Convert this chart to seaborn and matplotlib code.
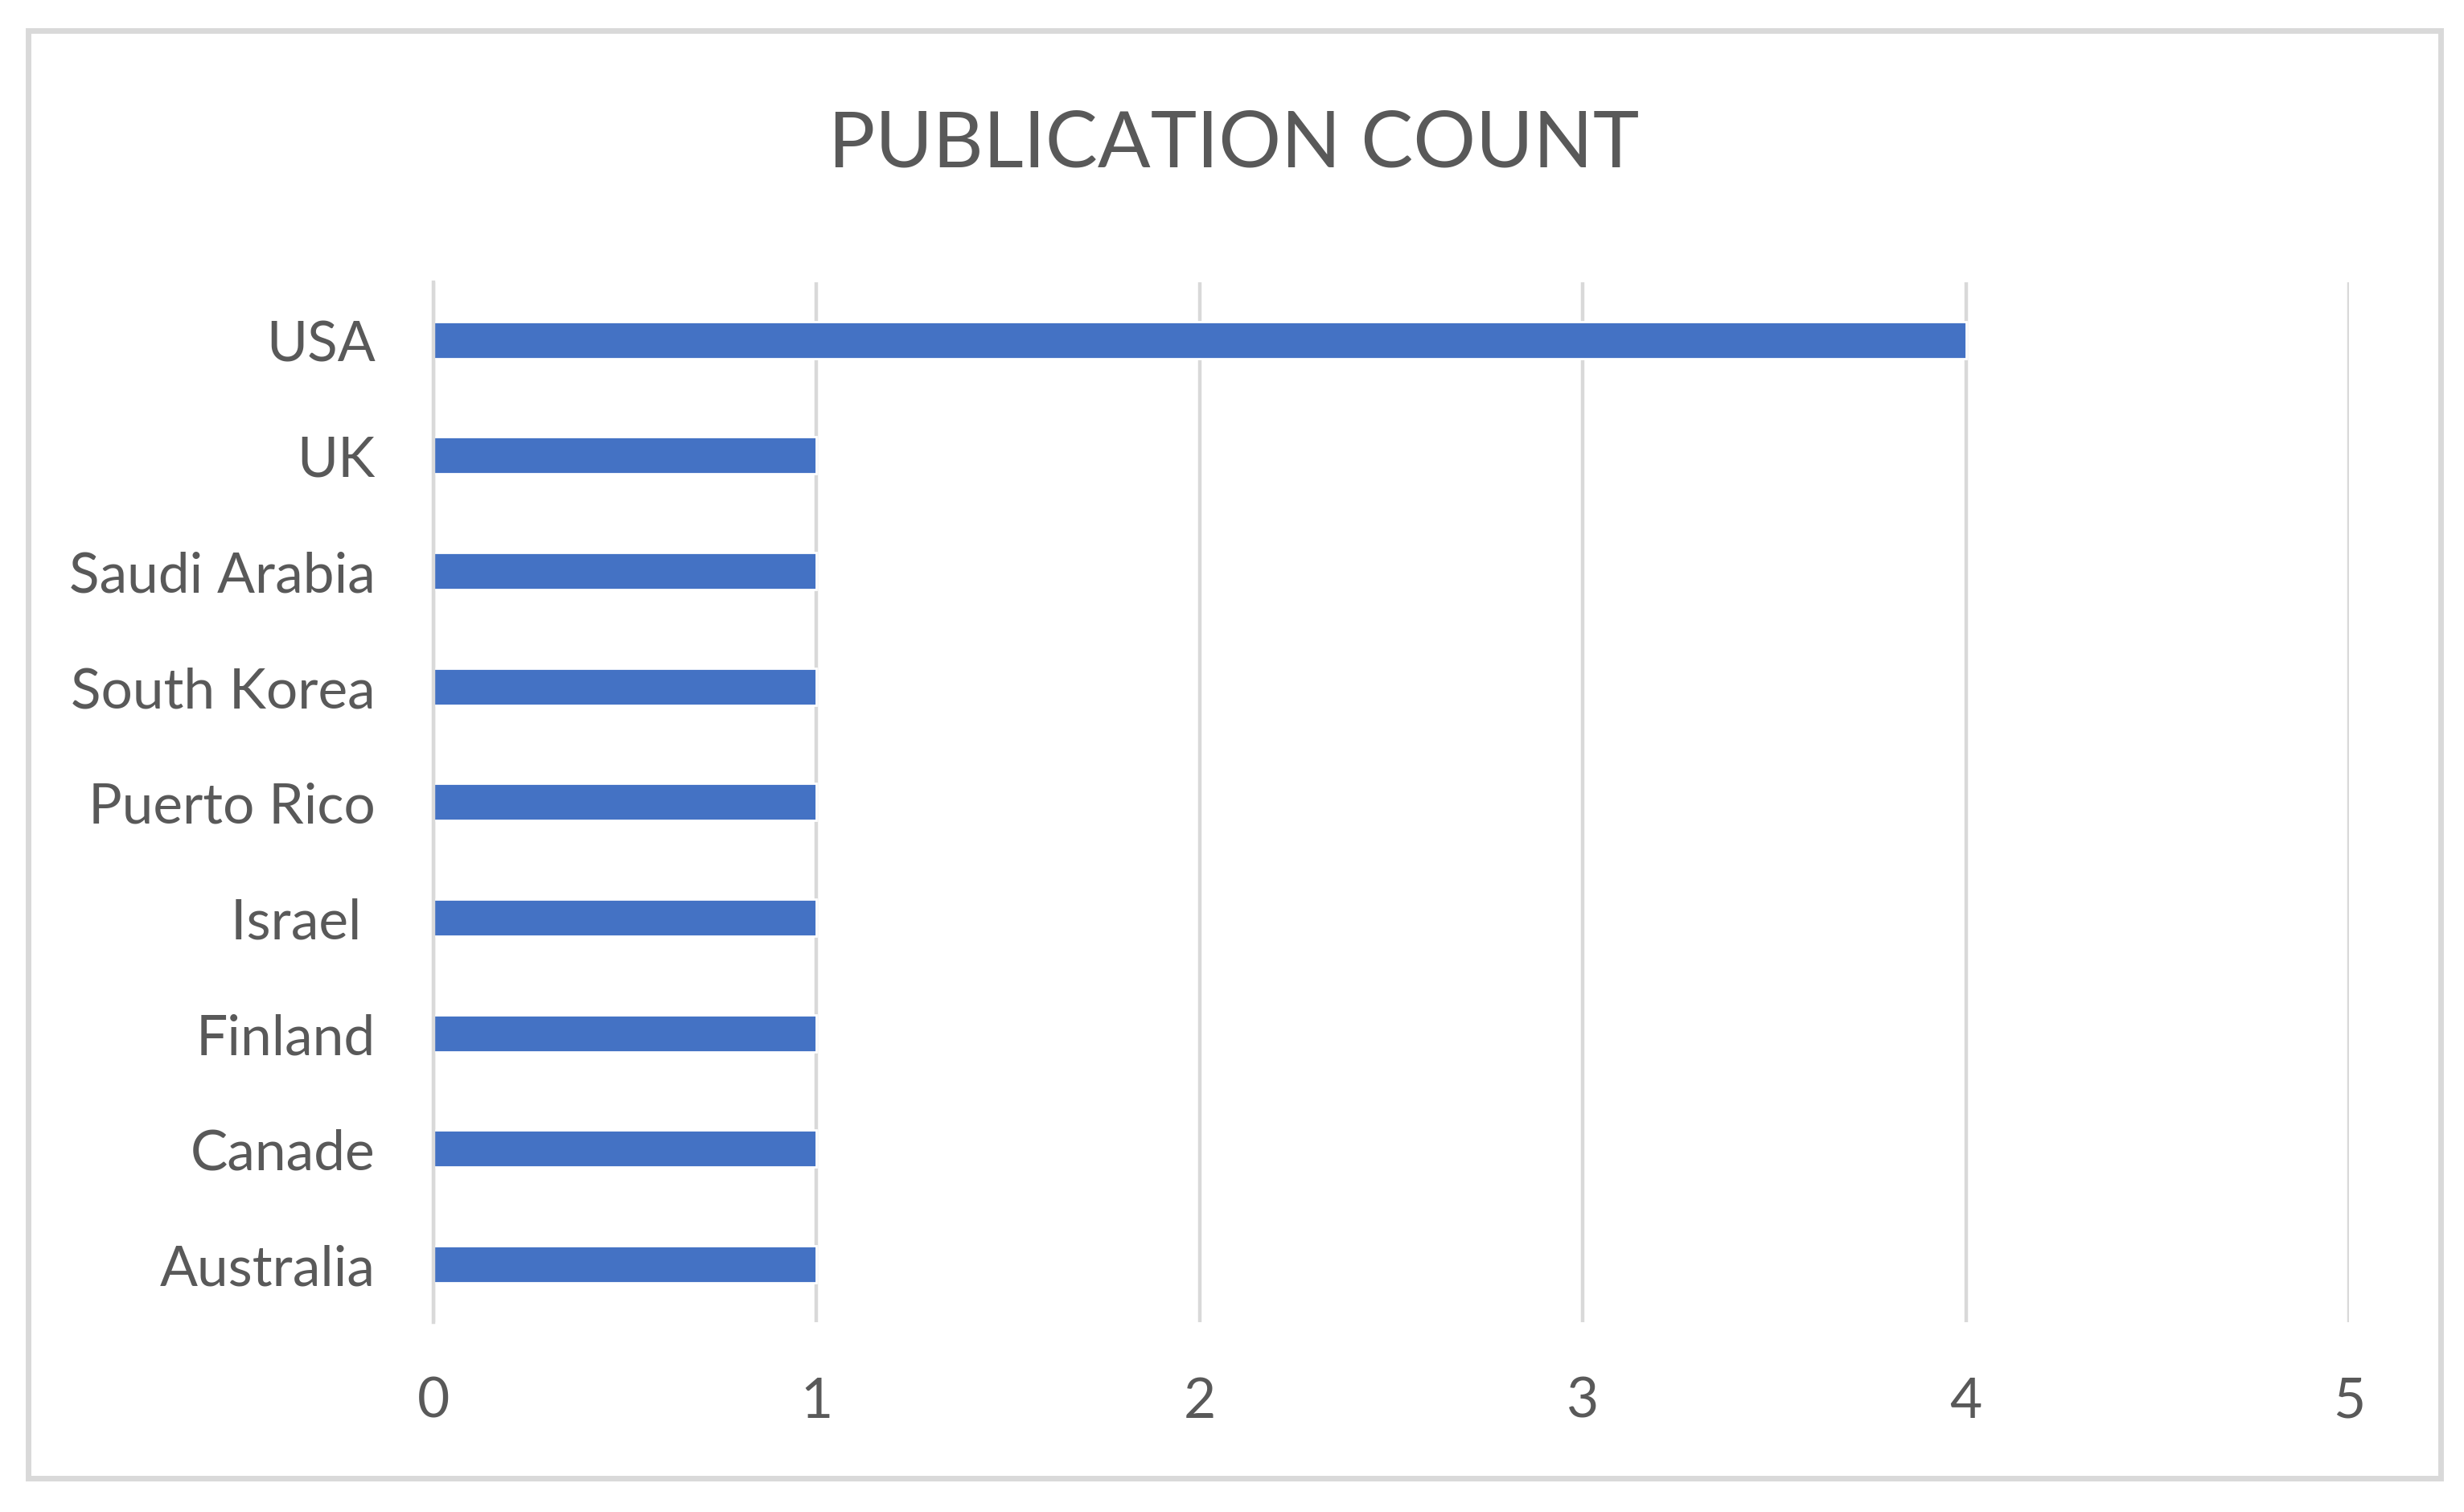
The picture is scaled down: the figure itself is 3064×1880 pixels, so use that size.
import pandas as pd
import numpy as np
import matplotlib
matplotlib.use("Agg")
import matplotlib.pyplot as plt
import seaborn as sns
from matplotlib.patches import Rectangle

# donnees
countries = ["USA", "UK", "Saudi Arabia", "South Korea", "Puerto Rico",
             "Israel ", "Finland", "Canade", "Australia"]
counts = [4, 1, 1, 1, 1, 1, 1, 1, 1]
x_ticks = [0, 1, 2, 3, 4, 5]

data = pd.DataFrame({"country": countries, "count": counts})

sns.set_theme(style="white")
plt.rcParams['font.family'] = ['Lato', 'DejaVu Sans']

text_color = "#595959"
grid_color = "#d9d9d9"
bar_color = "#4472C4"

fig = plt.figure(figsize=(15.32, 9.405), dpi=200)
ax = fig.add_axes([0.1759, 0.1255, 0.9533 - 0.1759, 0.8129 - 0.1255])

sns.barplot(data=data, x="count", y="country", orient="h", color=bar_color,
            width=0.32, saturation=1, ax=ax)

ax.set_xlim(0, 5)
ax.set_ylim(len(countries) - 0.5, -0.5)
ax.set_xticks(x_ticks)
ax.set_xticklabels([str(t) for t in x_ticks])
ax.set_xlabel("")
ax.set_ylabel("")

ax.grid(axis="x", color=grid_color, linewidth=1.6)
ax.set_axisbelow(True)
for side in ["top", "right", "bottom"]:
    ax.spines[side].set_visible(False)
ax.spines["left"].set_color(grid_color)
ax.spines["left"].set_linewidth(1.6)

ax.tick_params(axis="y", length=0, pad=26, labelsize=25, labelcolor=text_color)
ax.tick_params(axis="x", length=0, pad=24, labelsize=25, labelcolor=text_color)

fig.text(0.5007, 0.904, "PUBLICATION COUNT", ha="center", va="center",
         fontsize=35, color=text_color)

# cadre autour du graphique
fig.patches.append(Rectangle((35 / 3064, 1 - 1839 / 1881), (3035 - 35) / 3064,
                             (1839 - 39) / 1881, transform=fig.transFigure,
                             fill=False, edgecolor=grid_color, linewidth=2.5))

fig.savefig("out.png", dpi=200, facecolor="white")
